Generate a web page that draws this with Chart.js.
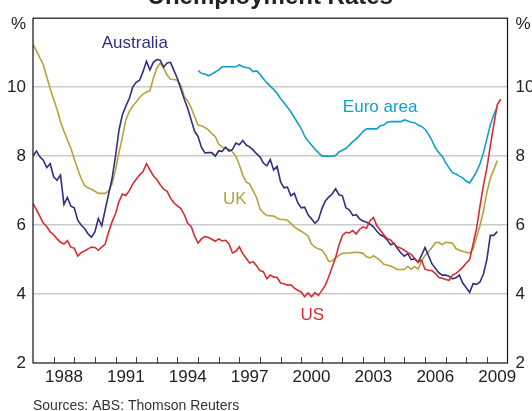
<!DOCTYPE html>
<html>
<head>
<meta charset="utf-8">
<script src="https://cdn.jsdelivr.net/npm/chart.js@4.4.1/dist/chart.umd.min.js"></script>
<style>
  body { margin: 0; background: #fff; }
  canvas { display: block; }
</style>
</head>
<body>
<canvas id="chart" width="532" height="411"></canvas>
<script>
// readings every two months, starting January of the start year
const STEP = 1 / 6;
const seriesStart = 1987;
const euroStart = 1995;

const australia = [
    8.0, 8.15, 7.98, 7.88, 7.67, 7.78,
    7.4, 7.3, 7.45, 6.6, 6.8, 6.55,
    6.5, 6.14, 6.0, 5.9, 5.75, 5.65,
    5.8, 6.19, 5.98, 6.45, 6.9, 7.35,
    8.0, 8.75, 9.2, 9.45, 9.67, 10.0,
    10.14, 10.2, 10.45, 10.75, 10.5, 10.72,
    10.8, 10.78, 10.58, 10.7, 10.72, 10.48,
    10.25, 9.95, 9.65, 9.38, 9.05, 8.72,
    8.57, 8.25, 8.09, 8.1, 8.1, 8.0,
    8.15, 8.14, 8.26, 8.15, 8.19, 8.38,
    8.33, 8.45, 8.32, 8.27, 8.18, 8.07,
    7.98, 7.8, 7.72, 7.9, 7.6, 7.7,
    7.25, 7.08, 7.1, 6.85, 6.92, 6.65,
    6.5, 6.52, 6.3, 6.18, 6.05, 6.15,
    6.47, 6.7, 6.81, 6.9, 7.05, 6.88,
    6.85, 6.5, 6.44, 6.28, 6.3, 6.18,
    6.12, 6.08, 6.03, 5.95, 5.82, 5.72,
    5.67, 5.57, 5.43, 5.47, 5.32, 5.19,
    5.1, 5.17, 5.0, 5.02, 4.92, 5.12,
    5.35, 5.12, 4.88, 4.75, 4.62, 4.55,
    4.55, 4.52, 4.44, 4.47, 4.55, 4.32,
    4.18, 4.05, 4.3, 4.28, 4.35, 4.58,
    5.0, 5.7, 5.7, 5.81
];

const uk = [
    11.24, 11.05, 10.85, 10.65, 10.3, 9.95,
    9.65, 9.35, 9.0, 8.72, 8.47, 8.23,
    7.92, 7.62, 7.35, 7.15, 7.08, 7.04,
    6.98, 6.92, 6.92, 6.92, 6.98, 7.2,
    7.6, 8.1, 8.55, 9.05, 9.3, 9.45,
    9.57, 9.7, 9.8, 9.86, 9.9, 10.25,
    10.55, 10.7, 10.55, 10.35, 10.23, 10.22,
    10.2, 10.05, 9.72, 9.6, 9.4, 9.15,
    8.9, 8.88, 8.83, 8.76, 8.65, 8.57,
    8.35, 8.26, 8.23, 8.2, 8.12, 8.0,
    7.75, 7.45, 7.25, 7.19, 7.0, 6.8,
    6.47, 6.35, 6.28, 6.27, 6.26, 6.2,
    6.16, 6.16, 6.14, 6.05, 5.95, 5.88,
    5.82, 5.76, 5.68, 5.45, 5.36, 5.31,
    5.28, 5.14, 4.95, 4.96, 5.05, 5.12,
    5.18, 5.19, 5.19, 5.2, 5.21, 5.2,
    5.18, 5.08, 5.05, 5.11, 5.05, 4.97,
    4.86, 4.84, 4.81, 4.76, 4.71, 4.71,
    4.71, 4.8, 4.72, 4.8, 4.72, 4.95,
    5.12, 5.22, 5.35, 5.49, 5.5, 5.43,
    5.5, 5.49, 5.48, 5.32, 5.27, 5.24,
    5.21, 5.19, 5.3, 5.65, 5.98, 6.4,
    6.95, 7.35, 7.6, 7.87
];

const us = [
    6.62, 6.45, 6.25, 6.05, 5.96, 5.8,
    5.72, 5.6, 5.5, 5.45, 5.55, 5.36,
    5.33, 5.1, 5.2, 5.25, 5.31, 5.36,
    5.35, 5.27, 5.36, 5.45, 5.8, 6.1,
    6.33, 6.68, 6.9, 6.86, 7.0, 7.19,
    7.33, 7.45, 7.55, 7.78, 7.6, 7.43,
    7.32, 7.17, 7.04, 6.98, 6.78, 6.64,
    6.56, 6.48, 6.3, 6.05, 5.96, 5.68,
    5.48, 5.6, 5.67, 5.64, 5.59, 5.53,
    5.6, 5.54, 5.56, 5.45, 5.19, 5.24,
    5.37, 5.17, 5.04, 4.9, 4.94, 4.82,
    4.68, 4.65, 4.45, 4.55, 4.49, 4.48,
    4.32, 4.3, 4.26, 4.27, 4.17, 4.11,
    4.06, 3.92, 4.03, 3.92, 4.04, 3.96,
    4.1, 4.25, 4.5, 4.78, 5.05, 5.42,
    5.7, 5.79, 5.77, 5.84, 5.74, 5.88,
    5.95, 5.91, 6.12, 6.22, 5.98, 5.85,
    5.72, 5.6, 5.57, 5.45, 5.37, 5.33,
    5.27, 5.2, 5.15, 5.03, 4.92, 4.98,
    4.72, 4.69, 4.68, 4.6, 4.48, 4.46,
    4.42, 4.4, 4.55, 4.6, 4.68, 4.78,
    4.9, 5.0, 5.45, 5.9, 6.55, 7.15,
    7.65, 8.3, 8.9, 9.48, 9.65
];

const euroArea = [
    10.48, 10.4, 10.38, 10.33, 10.38, 10.44,
    10.5, 10.59, 10.59, 10.59, 10.59, 10.59,
    10.65, 10.59, 10.57, 10.55, 10.45, 10.47,
    10.38, 10.24, 10.13, 10.03, 9.93, 9.82,
    9.67, 9.55, 9.42, 9.28, 9.12, 8.96,
    8.8, 8.58, 8.44, 8.32, 8.2, 8.1,
    8.0, 8.0, 8.0, 8.0, 8.02, 8.12,
    8.17, 8.22, 8.32, 8.42, 8.5, 8.6,
    8.72, 8.79, 8.79, 8.79, 8.79, 8.88,
    8.9, 8.98, 9.0, 9.0, 9.0, 9.0,
    9.05, 9.02, 8.98, 8.97, 8.9, 8.86,
    8.78, 8.64, 8.46, 8.25, 8.1, 8.0,
    7.81, 7.66, 7.52, 7.48, 7.42, 7.37,
    7.27, 7.22, 7.38, 7.55, 7.78, 8.1,
    8.5, 8.9, 9.2, 9.42
];

const yearLabels = [1988, 1991, 1994, 1997, 2000, 2003, 2006, 2009];
const yearMarks = [1988, 1989, 1990, 1991, 1992, 1993, 1994, 1995, 1996, 1997, 1998,
    1999, 2000, 2001, 2002, 2003, 2004, 2005, 2006, 2007, 2008, 2009];

const NAVY = "#2e3080";
const GOLD = "#b9a13c";
const RED = "#d62d32";
const CYAN = "#12a0cb";
const FONT = "Arial, 'Liberation Sans', sans-serif";

function toPoints(values, start) {
    return values.map((v, i) => ({ x: start + i * STEP, y: v }));
}

function lineSet(label, values, start, color, order) {
    return {
        label: label,
        data: toPoints(values, start),
        borderColor: color,
        borderWidth: 1.6,
        pointRadius: 0,
        tension: 0,
        fill: false,
        order: order
    };
}

// series names, title, frame, year marks and footnote
const decorations = {
    id: "decorations",
    afterDatasetsDraw(chart) {
        const ctx = chart.ctx;
        const area = chart.chartArea;
        const xs = chart.scales.x;
        const ys = chart.scales.y;

        ctx.save();
        ctx.strokeStyle = "#444";
        ctx.lineWidth = 1;
        yearMarks.forEach(year => {
            const px = Math.round(xs.getPixelForValue(year)) + 0.5;
            ctx.beginPath();
            ctx.moveTo(px, area.bottom);
            ctx.lineTo(px, area.bottom - 6);
            ctx.stroke();
        });

        ctx.strokeStyle = "#111";
        ctx.lineWidth = 1.2;
        ctx.strokeRect(area.left, area.top, area.right - area.left, area.bottom - area.top);

        ctx.font = "17px " + FONT;
        ctx.textBaseline = "middle";
        ctx.textAlign = "left";
        const names = [
            ["Australia", 1990.33, 11.28, NAVY],
            ["Euro area", 2002.02, 9.41, CYAN],
            ["UK", 1996.21, 6.74, GOLD],
            ["US", 1999.97, 3.38, RED]
        ];
        names.forEach(([text, year, value, color]) => {
            ctx.fillStyle = color;
            ctx.fillText(text, xs.getPixelForValue(year), ys.getPixelForValue(value));
        });
        ctx.restore();
    },
    afterDraw(chart) {
        const ctx = chart.ctx;
        const area = chart.chartArea;
        ctx.save();
        ctx.fillStyle = "#222";
        ctx.font = "bold 24px " + FONT;
        ctx.textAlign = "center";
        ctx.textBaseline = "alphabetic";
        ctx.fillText("Unemployment Rates", (area.left + area.right) / 2, 4);

        ctx.font = "17px " + FONT;
        ctx.textBaseline = "middle";
        ctx.textAlign = "right";
        ctx.fillText("%", area.left - 7, 24);
        ctx.textAlign = "left";
        ctx.fillText("%", area.right + 8, 24);

        ctx.font = "14px " + FONT;
        ctx.fillStyle = "#333";
        ctx.fillText("Sources: ABS: Thomson Reuters", 33, 406);
        ctx.restore();
    }
};

const yTickFont = { family: FONT, size: 17 };

function yAxis(position, width, pad) {
    return {
        type: "linear",
        position: position,
        min: 2,
        max: 12,
        afterFit: (scale) => { scale.width = width; },
        ticks: {
            stepSize: 2,
            color: "#222",
            font: yTickFont,
            padding: pad,
            callback: (v) => (v === 12 ? "" : v)
        },
        grid: {
            display: position === "left",
            drawTicks: false,
            lineWidth: 1.5,
            color: (c) => (c.tick && (c.tick.value === 2 || c.tick.value === 12)) ? "rgba(0,0,0,0)" : "#cbcbcb"
        },
        border: { display: false }
    };
}

new Chart(document.getElementById("chart"), {
    type: "line",
    data: {
        datasets: [
            lineSet("US", us, seriesStart, RED, 1),
            lineSet("Australia", australia, seriesStart, NAVY, 2),
            lineSet("UK", uk, seriesStart, GOLD, 3),
            lineSet("Euro area", euroArea, euroStart, CYAN, 4)
        ]
    },
    options: {
        responsive: false,
        animation: false,
        layout: { padding: { top: 14, left: 0, right: 0, bottom: 0 } },
        plugins: {
            legend: { display: false },
            title: { display: false },
            tooltip: { enabled: false }
        },
        scales: {
            x: {
                type: "linear",
                min: 1987,
                max: 2010,
                afterFit: (scale) => { scale.height = 48; },
                afterBuildTicks: (axis) => {
                    axis.ticks = yearLabels.map(y => ({ value: y + 0.5 }));
                },
                ticks: {
                    color: "#222",
                    font: { family: FONT, size: 17 },
                    padding: 4,
                    maxRotation: 0,
                    autoSkip: false,
                    callback: (v) => String(Math.floor(v))
                },
                grid: { display: false, drawTicks: false },
                border: { display: false }
            },
            y: yAxis("left", 33, 7),
            y2: yAxis("right", 24.5, 8)
        }
    },
    plugins: [decorations]
});
</script>
</body>
</html>
